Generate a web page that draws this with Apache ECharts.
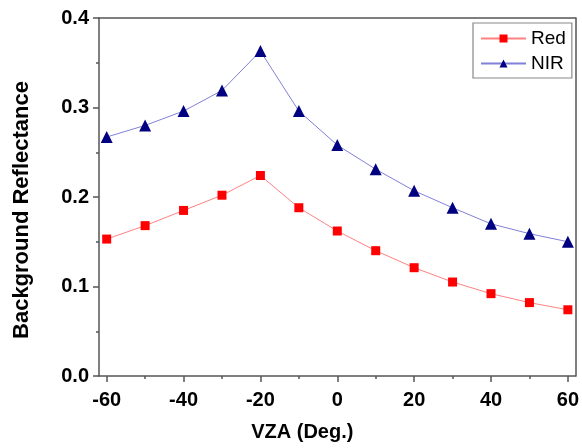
<!DOCTYPE html>
<html>
<head>
<meta charset="utf-8">
<script src="https://cdn.jsdelivr.net/npm/echarts@6/dist/echarts.min.js"></script>
<style>html,body{margin:0;padding:0;background:#fff}#c{width:582px;height:448px}</style>
</head>
<body>
<div id="c"></div>
<script>
var vza = [-60, -50, -40, -30, -20, -10, 0, 10, 20, 30, 40, 50, 60];
var red = [0.153, 0.168, 0.185, 0.202, 0.224, 0.188, 0.162, 0.140, 0.121, 0.105, 0.092, 0.082, 0.074];
var nir = [0.267, 0.280, 0.296, 0.319, 0.363, 0.296, 0.258, 0.231, 0.207, 0.188, 0.170, 0.159, 0.150];
var xMajor = [-60, -40, -20, 0, 20, 40, 60];
var xMinor = [-50, -30, -10, 10, 30, 50];
var xTitle = 'VZA (Deg.)';
var yTitle = 'Background Reflectance';

var FONT = 'Liberation Sans, Arial, sans-serif';
var AX = '#555';
function pairs(ys) { return vza.map(function (x, i) { return [x, ys[i]]; }); }

var chart = echarts.init(document.getElementById('c'), null, {renderer: 'canvas'});
chart.setOption({
  animation: false,
  grid: {left: 99, right: 4, top: 18, bottom: 72, containLabel: false},
  legend: {
    orient: 'vertical', left: 473, top: 23,
    padding: [6, 6, 5, 7], itemGap: 6,
    itemWidth: 45, itemHeight: 10,
    borderColor: '#888', borderWidth: 1.2,
    textStyle: {fontFamily: FONT, fontSize: 19, color: '#000'},
    data: ['Red', 'NIR']
  },
  xAxis: [
    {
      type: 'value', position: 'bottom', min: -62, max: 62,
      name: xTitle, nameLocation: 'middle', nameGap: 46,
      nameTextStyle: {fontFamily: FONT, fontSize: 20, fontWeight: 'bold', color: '#000', padding: [0, 70, 0, 0]},
      axisLine: {show: true, onZero: false, lineStyle: {color: AX, width: 1.5}},
      axisTick: {show: true, customValues: xMajor, length: 6, lineStyle: {color: AX, width: 1.5}},
      axisLabel: {customValues: xMajor, margin: 14, fontFamily: FONT, fontSize: 20, fontWeight: 'bold', color: '#000'},
      splitLine: {show: false}
    },
    {
      type: 'value', position: 'bottom', min: -62, max: 62,
      axisLine: {show: false, onZero: false},
      axisTick: {show: true, customValues: xMinor, length: 3, lineStyle: {color: AX, width: 1.5}},
      axisLabel: {show: false},
      splitLine: {show: false}
    },
    {
      type: 'value', position: 'top', min: -62, max: 62,
      axisLine: {show: true, onZero: false, lineStyle: {color: AX, width: 1.5}},
      axisTick: {show: false}, axisLabel: {show: false}, splitLine: {show: false}
    }
  ],
  yAxis: [
    {
      type: 'value', position: 'left', min: 0, max: 0.4, interval: 0.1,
      name: yTitle, nameLocation: 'middle', nameGap: 66,
      nameTextStyle: {fontFamily: FONT, fontSize: 22, fontWeight: 'bold', color: '#000', padding: [0, 26, 0, 0]},
      axisLine: {show: true, onZero: false, lineStyle: {color: AX, width: 1.5}},
      axisTick: {show: true, length: 6, lineStyle: {color: AX, width: 1.5}},
      minorTick: {show: true, splitNumber: 2, length: 3, lineStyle: {color: AX, width: 1.5}},
      axisLabel: {margin: 10, fontFamily: FONT, fontSize: 20, fontWeight: 'bold', color: '#000',
        formatter: function (v) { return v.toFixed(1); }},
      splitLine: {show: false}
    },
    {
      type: 'value', position: 'right', min: 0, max: 0.4,
      axisLine: {show: true, onZero: false, lineStyle: {color: AX, width: 1.5}},
      axisTick: {show: false}, axisLabel: {show: false}, splitLine: {show: false}
    }
  ],
  series: [
    {
      name: 'Red', type: 'line', xAxisIndex: 0, yAxisIndex: 0,
      data: pairs(red), symbol: 'rect', symbolSize: 9,
      itemStyle: {color: '#ff0000'},
      lineStyle: {color: '#ff8080', width: 1}
    },
    {
      name: 'NIR', type: 'line', xAxisIndex: 0, yAxisIndex: 0,
      data: pairs(nir), symbol: 'triangle', symbolSize: 12,
      itemStyle: {color: '#000080'},
      lineStyle: {color: '#8080d8', width: 1}
    }
  ]
});
</script>
</body>
</html>
